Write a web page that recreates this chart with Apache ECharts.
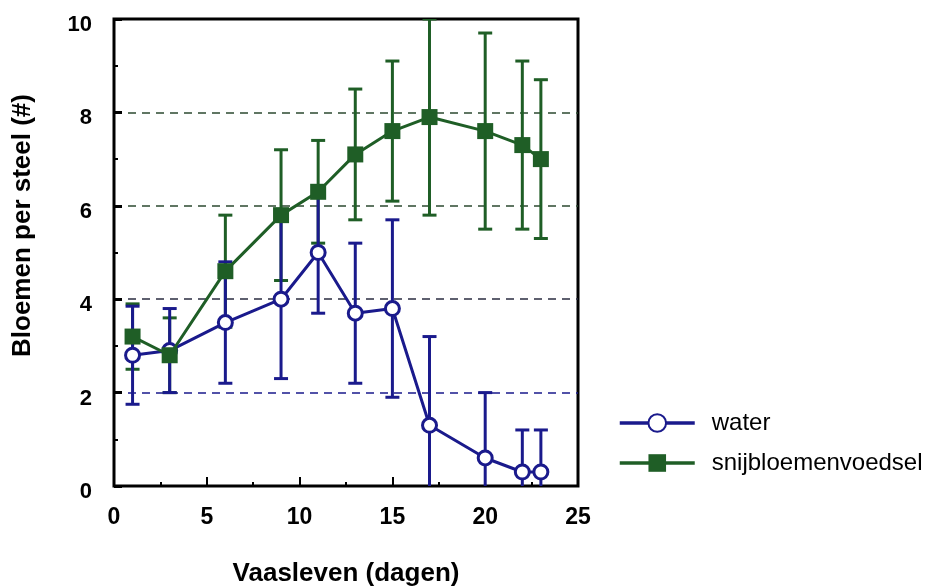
<!DOCTYPE html>
<html>
<head>
<meta charset="utf-8">
<script src="https://cdn.jsdelivr.net/npm/echarts@6/dist/echarts.min.js"></script>
<style>html,body{margin:0;padding:0;background:#fff;}#chart{width:941px;height:587px;}</style>
</head>
<body>
<div id="chart"></div>
<script>
var days = [1, 3, 6, 9, 11, 13, 15, 17, 20, 22, 23];
var waterMean = [2.8, 2.9, 3.5, 4.0, 5.0, 3.7, 3.8, 1.3, 0.6, 0.3, 0.3];
var waterErr = [1.05, 0.9, 1.3, 1.7, 1.3, 1.5, 1.9, 1.9, 1.4, 0.9, 0.9];
var foodMean = [3.2, 2.8, 4.6, 5.8, 6.3, 7.1, 7.6, 7.9, 7.6, 7.3, 7.0];
var foodErr = [0.7, 0.8, 1.2, 1.4, 1.1, 1.4, 1.5, 2.1, 2.1, 1.8, 1.7];
var seriesNames = ['water', 'snijbloemenvoedsel'];
var xTitle = 'Vaasleven (dagen)';
var yTitle = 'Bloemen per steel (#)';

var BLUE = '#1a1a8c';
var GREEN = '#1f5e26';
var FONT = '"Liberation Sans", Arial, Helvetica, sans-serif';

function pairs(xs, ys) { return xs.map(function (x, i) { return [x, ys[i]]; }); }
function errData(xs, m, e) { return xs.map(function (x, i) { return [x, m[i] - e[i], m[i] + e[i]]; }); }

function errRender(color) {
  return function (params, api) {
    var x = api.value(0);
    var lo = api.coord([x, api.value(1)]);
    var hi = api.coord([x, api.value(2)]);
    var hw = 7;
    var st = { stroke: color, lineWidth: 3 };
    return {
      type: 'group',
      children: [
        { type: 'line', shape: { x1: lo[0], y1: lo[1], x2: hi[0], y2: hi[1] }, style: st },
        { type: 'line', shape: { x1: lo[0] - hw, y1: lo[1], x2: lo[0] + hw, y2: lo[1] }, style: st },
        { type: 'line', shape: { x1: hi[0] - hw, y1: hi[1], x2: hi[0] + hw, y2: hi[1] }, style: st }
      ]
    };
  };
}

var chart = echarts.init(document.getElementById('chart'));
chart.setOption({
  animation: false,
  backgroundColor: '#fff',
  grid: {
    left: 114, top: 19, width: 464, height: 467,
    show: true, borderColor: '#000', borderWidth: 3, backgroundColor: 'transparent',
    containLabel: false, outerBoundsMode: 'none'
  },
  legend: {
    orient: 'vertical',
    left: 618, top: 411, padding: 0,
    itemWidth: 75, itemHeight: 22, itemGap: 16,
    data: seriesNames,
    lineStyle: { width: 3.5 },
    textStyle: { fontFamily: FONT, fontSize: 24, color: '#000', lineHeight: 24, padding: [0, 0, 0, 12] }
  },
  xAxis: {
    type: 'value', min: 0, max: 25, interval: 5,
    name: xTitle, nameLocation: 'middle', nameGap: 75,
    nameTextStyle: { fontFamily: FONT, fontSize: 26, fontWeight: 'bold', color: '#000' },
    axisLine: { show: false },
    axisTick: { show: true, inside: true, length: 9, lineStyle: { color: '#000', width: 2 } },
    minorTick: { show: true, splitNumber: 2, length: 4, lineStyle: { color: '#000', width: 2 } },
    splitLine: { show: false },
    axisLabel: { margin: 20, fontFamily: FONT, fontSize: 23, fontWeight: 'bold', color: '#000' }
  },
  yAxis: {
    type: 'value', min: 0, max: 10, interval: 2,
    name: yTitle, nameLocation: 'middle', nameGap: 78,
    nameTextStyle: { fontFamily: FONT, fontSize: 26, fontWeight: 'bold', color: '#000', padding: [0, 0, 0, 54] },
    axisLine: { show: false },
    axisTick: { show: true, inside: true, length: 8, lineStyle: { color: '#000', width: 3 } },
    minorTick: { show: true, splitNumber: 2, length: 4, lineStyle: { color: '#000', width: 2 } },
    splitLine: {
      show: true,
      lineStyle: { color: ['#000', '#1a1a8c', '#2a2d40', '#2d4a30', '#2d4a30', '#000'], width: 1.5, type: [8, 6] }
    },
    axisLabel: {
      margin: 22, formatter: '{v|{value}}',
      rich: { v: { fontFamily: FONT, fontSize: 22, fontWeight: 'bold', color: '#000', padding: [12, 0, 0, 0] } }
    }
  },
  series: [
    {
      type: 'custom', name: 'errFood', data: errData(days, foodMean, foodErr),
      renderItem: errRender(GREEN), clip: true, z: 1, silent: true,
      encode: { x: 0, y: [1, 2] }
    },
    {
      type: 'custom', name: 'errWater', data: errData(days, waterMean, waterErr),
      renderItem: errRender(BLUE), clip: true, z: 2, silent: true,
      encode: { x: 0, y: [1, 2] }
    },
    {
      type: 'line', name: seriesNames[0], data: pairs(days, waterMean), z: 3,
      symbol: 'circle', symbolSize: 14, showAllSymbol: true,
      lineStyle: { color: BLUE, width: 3 },
      itemStyle: { color: '#fff', borderColor: BLUE, borderWidth: 3 }
    },
    {
      type: 'line', name: seriesNames[1], data: pairs(days, foodMean), z: 4,
      symbol: 'rect', symbolSize: 16, showAllSymbol: true,
      lineStyle: { color: GREEN, width: 3 },
      itemStyle: { color: GREEN, borderColor: GREEN, borderWidth: 0 }
    }
  ]
});
</script>
</body>
</html>
